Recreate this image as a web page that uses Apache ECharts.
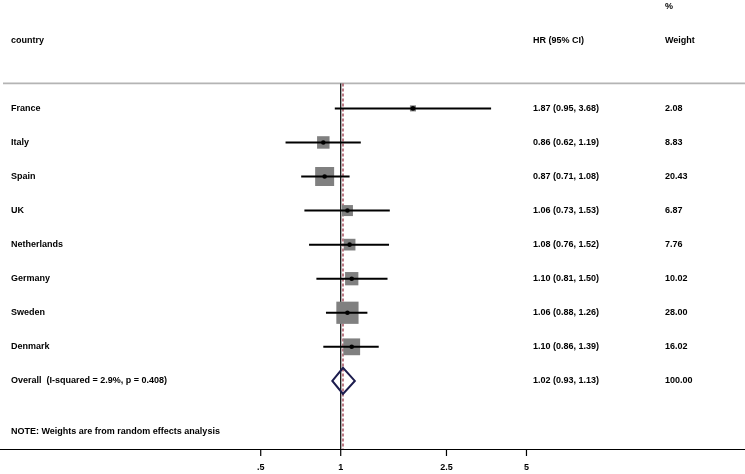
<!DOCTYPE html>
<html><head><meta charset="utf-8">
<script src="https://cdn.jsdelivr.net/npm/echarts@6/dist/echarts.min.js"></script>
<style>html,body{margin:0;padding:0;background:#fff}#c{width:745px;height:474px}</style>
</head><body><div id="c"></div>
<script>
// ---- data ----
const countries = ['France', 'Italy', 'Spain', 'UK', 'Netherlands', 'Germany', 'Sweden', 'Denmark'];
const hr      = [1.87, 0.86, 0.87, 1.06, 1.08, 1.10, 1.06, 1.10];
const ciLow   = [0.95, 0.62, 0.71, 0.73, 0.76, 0.81, 0.88, 0.86];
const ciHigh  = [3.68, 1.19, 1.08, 1.53, 1.52, 1.50, 1.26, 1.39];
const weights = [2.08, 8.83, 20.43, 6.87, 7.76, 10.02, 28.00, 16.02];
const overallLabel = 'Overall  (I-squared = 2.9%, p = 0.408)';
const overallHR = [1.02];
const overallLow = [0.93];
const overallHigh = [1.13];
const overallWeight = [100.00];
const noteText = 'NOTE: Weights are from random effects analysis';
const headerCountry = 'country';
const headerHR = 'HR (95% CI)';
const headerWeight = ['%', 'Weight'];
const tickValues = [0.5, 1, 2.5, 5];
const tickLabels = ['.5', '1', '2.5', '5'];

// ---- styling ----
const FONT = 'bold 9px "Liberation Sans", Arial, sans-serif';
const COL_COUNTRY = 11, COL_HR = 533, COL_W = 665;
const BOX_K = 4.2;
const SEP_ROW = -0.733, AXIS_ROW = 10;
const OVERALL_ROW = countries.length, NOTE_ROW = countries.length + 1.5;

const chart = echarts.init(document.getElementById('c'), null, {renderer: 'canvas'});

function txt(x, y, s, align) {
  return {type: 'text', style: {x: x, y: y, text: s, font: FONT, fill: '#000', align: align || 'left', verticalAlign: 'middle'}};
}
const fmt = v => v.toFixed(2);

chart.setOption({
  animation: false,
  backgroundColor: '#fff',
  grid: {left: 0, right: 0, top: 6.2, bottom: 25, containLabel: false},
  xAxis: {
    type: 'log', logBase: 10, min: 0.05223, max: 33.21,
    axisLine: {show: true, onZero: false, lineStyle: {color: '#000', width: 1.2}},
    axisTick: {show: false}, axisLabel: {show: false}, splitLine: {show: false}
  },
  yAxis: {type: 'value', inverse: true, min: -3, max: 10, show: false, splitLine: {show: false}},
  series: [
    { // frame: separator, null line, overall dashed line
      type: 'custom', z: 1, silent: true,
      data: [[1, 0]],
      renderItem: function (params, api) {
        const top1 = api.coord([1, SEP_ROW]), bot1 = api.coord([1, AXIS_ROW]);
        const topO = api.coord([overallHR[0], SEP_ROW]), botO = api.coord([overallHR[0], AXIS_ROW]);
        return {type: 'group', children: [
          {type: 'line', shape: {x1: 3, y1: top1[1], x2: 745, y2: top1[1]}, style: {stroke: '#b4b4b4', lineWidth: 1.6}},
          {type: 'line', shape: {x1: top1[0], y1: top1[1], x2: bot1[0], y2: bot1[1]}, style: {stroke: '#000', lineWidth: 1.2}},
          {type: 'line', shape: {x1: topO[0], y1: topO[1], x2: botO[0], y2: botO[1]}, style: {stroke: '#9a3446', lineWidth: 1.3, lineDash: [3, 2]}}
        ]};
      }
    },
    { // studies
      type: 'custom', z: 2, silent: true,
      data: countries.map((c, i) => [hr[i], i]),
      renderItem: function (params, api) {
        const i = params.dataIndex;
        const c = api.coord([hr[i], i]);
        const l = api.coord([ciLow[i], i]);
        const h = api.coord([ciHigh[i], i]);
        const s = BOX_K * Math.sqrt(weights[i]);
        return {type: 'group', children: [
          {type: 'rect', shape: {x: c[0] - s / 2, y: c[1] - s / 2, width: s, height: s}, style: {fill: '#808080'}},
          {type: 'line', shape: {x1: l[0], y1: l[1], x2: h[0], y2: h[1]}, style: {stroke: '#000', lineWidth: 2}},
          {type: 'circle', shape: {cx: c[0], cy: c[1], r: 2.3}, style: {fill: '#000'}},
          txt(COL_COUNTRY, c[1], countries[i]),
          txt(COL_HR, c[1], fmt(hr[i]) + ' (' + fmt(ciLow[i]) + ', ' + fmt(ciHigh[i]) + ')'),
          txt(COL_W, c[1], fmt(weights[i]))
        ]};
      }
    },
    { // overall diamond
      type: 'custom', z: 3, silent: true,
      data: overallHR.map((v, i) => [v, OVERALL_ROW]),
      renderItem: function (params, api) {
        const i = params.dataIndex;
        const c = api.coord([overallHR[i], OVERALL_ROW]);
        const l = api.coord([overallLow[i], OVERALL_ROW]);
        const h = api.coord([overallHigh[i], OVERALL_ROW]);
        const hh = 13;
        return {type: 'group', children: [
          {type: 'polygon', shape: {points: [[l[0], c[1]], [c[0], c[1] - hh], [h[0], c[1]], [c[0], c[1] + hh]]},
           style: {fill: 'none', stroke: '#1c1c4e', lineWidth: 2}},
          txt(COL_COUNTRY, c[1], overallLabel),
          txt(COL_HR, c[1], fmt(overallHR[i]) + ' (' + fmt(overallLow[i]) + ', ' + fmt(overallHigh[i]) + ')'),
          txt(COL_W, c[1], fmt(overallWeight[i]))
        ]};
      }
    },
    { // headers and note
      type: 'custom', z: 3, silent: true,
      data: [[1, -2]],
      renderItem: function (params, api) {
        const yPct = api.coord([1, -3])[1];
        const yHead = api.coord([1, -2])[1];
        const yNote = api.coord([1, NOTE_ROW])[1];
        return {type: 'group', children: [
          txt(COL_W, yPct, headerWeight[0]),
          txt(COL_COUNTRY, yHead, headerCountry),
          txt(COL_HR, yHead, headerHR),
          txt(COL_W, yHead, headerWeight[1]),
          txt(COL_COUNTRY, yNote, noteText)
        ]};
      }
    },
    { // x ticks
      type: 'custom', z: 3, silent: true,
      data: tickValues.map(v => [v, AXIS_ROW]),
      renderItem: function (params, api) {
        const i = params.dataIndex;
        const p = api.coord([tickValues[i], AXIS_ROW]);
        return {type: 'group', children: [
          {type: 'line', shape: {x1: p[0], y1: p[1], x2: p[0], y2: p[1] + 7}, style: {stroke: '#000', lineWidth: 1.2}},
          txt(p[0], p[1] + 19, tickLabels[i], 'center')
        ]};
      }
    }
  ]
});
</script></body></html>
